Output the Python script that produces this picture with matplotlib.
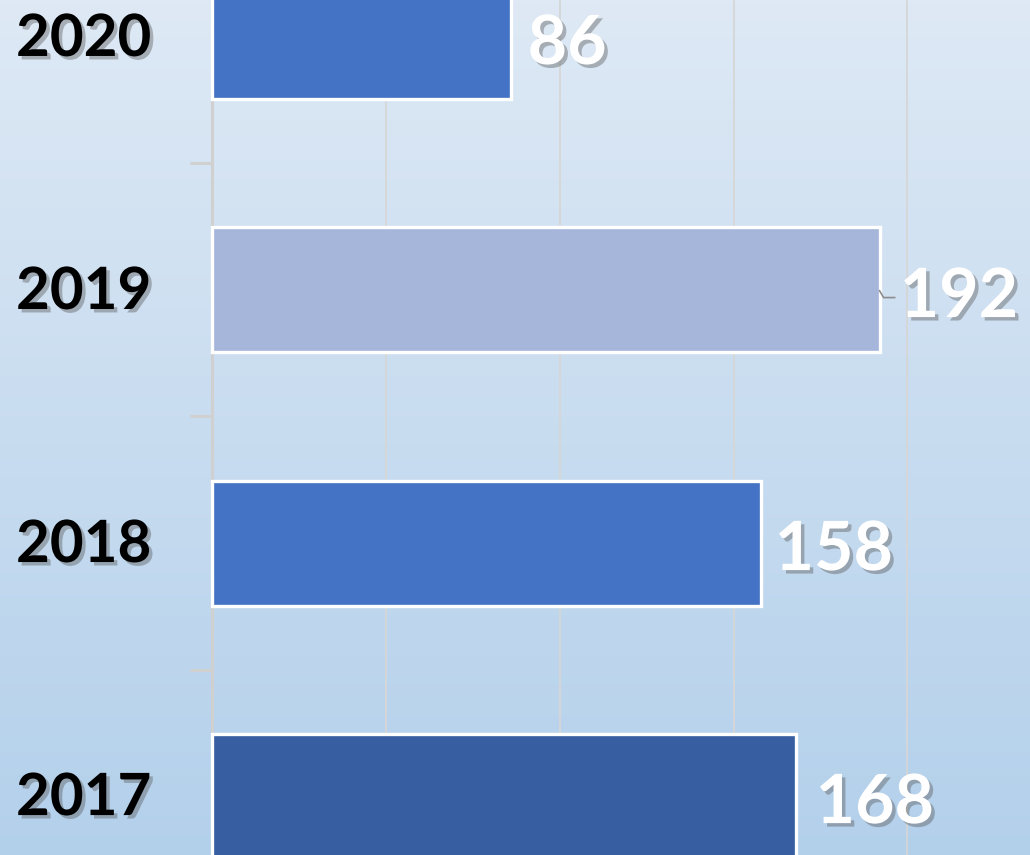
import numpy as np
import matplotlib
matplotlib.use("Agg")
import matplotlib.pyplot as plt
import matplotlib.patheffects as pe
from matplotlib.transforms import blended_transform_factory
from matplotlib.colors import LinearSegmentedColormap

years = ["2017", "2018", "2019", "2020"]
values = [168, 158, 192, 86]
colors = ["#365ea0", "#4472c4", "#a6b5da", "#4472c4"]
grid_ticks = [50, 100, 150, 200]

plt.rcParams['font.family'] = ['Lato', 'DejaVu Sans']

fig = plt.figure(figsize=(10.30, 8.55), dpi=100)
ax = fig.add_axes([0, 0, 1, 1])

px = 3.477  # pixels per unit
ax.set_xlim(-212 / px, (1030 - 212) / px)
ax.set_ylim(-0.233, 3.146)

# background gradient
grad = np.linspace(0, 1, 256).reshape(-1, 1)
cmap = LinearSegmentedColormap.from_list("bg", ["#b3d0eb", "#dee9f5"])
ax.imshow(grad, extent=[*ax.get_xlim(), *ax.get_ylim()], origin="lower",
          cmap=cmap, aspect="auto", zorder=0)

# gridlines
for g in grid_ticks:
    ax.axvline(g, color="#d6d6d6", lw=1.3, zorder=1)
ax.axvline(0, color="#d0d0d0", lw=2.2, zorder=1)
for b in [0.5, 1.5, 2.5]:
    ax.plot([-22 / px, 0], [b, b], color="#d0d0d0", lw=2.2, zorder=1,
            solid_capstyle="butt")

y = np.arange(len(years))
ax.barh(y, values, height=0.494, color=colors, edgecolor="white",
        linewidth=2.4, zorder=3)

shadow = [pe.SimplePatchShadow(offset=(2.5, -2.5), shadow_rgbFace="#555555", alpha=0.4),
          pe.Normal()]

tr = blended_transform_factory(ax.transAxes, ax.transData)
for i, yr in enumerate(years):
    ax.text(16 / 1030, i - 0.01, yr, transform=tr, ha="left", va="center",
            fontsize=42, fontweight="bold", color="black", path_effects=shadow,
            zorder=5)

offsets = [14, 9.5, 14.5, 12]
for i, v in enumerate(values):
    ax.annotate(str(v), xy=(v, i - 0.03), xytext=(offsets[i], 0),
                textcoords="offset points", ha="left", va="center",
                fontsize=49, fontweight="bold", color="white",
                path_effects=shadow, zorder=5)

# leader line on 2019 label
ax.plot([192, 192 + 4 / px, 192 + 15 / px], [2 - 0.003, 2 - 0.03, 2 - 0.03],
        color="#8c8c8c", lw=1.2, zorder=4)

ax.axis("off")
fig.savefig("out.png", dpi=100)
